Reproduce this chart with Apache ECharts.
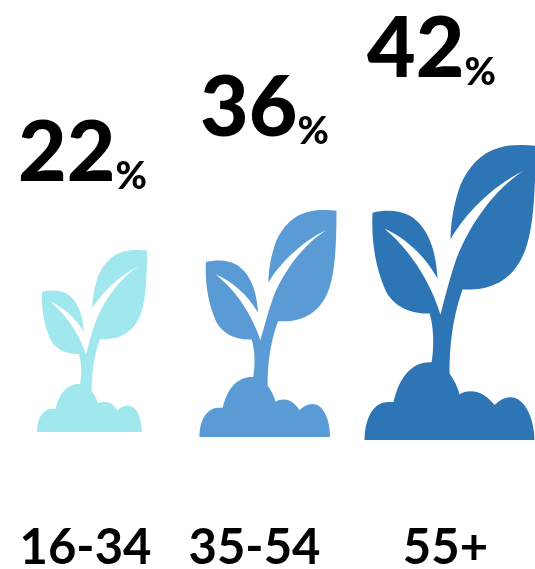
<!DOCTYPE html>
<html>
<head>
<meta charset="utf-8">
<style>html,body{margin:0;padding:0;background:#fff}#chart{width:535px;height:569px}</style>
<script src="https://cdn.jsdelivr.net/npm/echarts@6/dist/echarts.min.js"></script>
</head>
<body>
<div id="chart"></div>
<script>
// Share of each age group
const ageGroups = ['16-34', '35-54', '55+'];
const shares = [22, 36, 42];

// Seedling silhouette: two leaves with white veins, a stem and a mound of soil.
// The soil outline differs a little between the smaller and the larger plant.
const leavesAndStem = 'path://M535 145C525 144 510 143 498 147C480 152 468 166 460 184C454 200 450 222 450 239' +
  'C462 217 490 186 523 170C495 188 470 222 456 258C450 275 445 295 440 314' +
  'C435 298 420 258 384 228C405 237 425 256 437 278C436 255 430 232 415 219C405 210 388 208 372 212' +
  'C371 235 373 262 385 290C392 304 408 314 429 313C433 325 434 345 431 362' +
  'C415 361 400 372 393 402L388 402C372 402 364 420 364 440';
const stemAndLeafEnd = 'C457 386 453 379 449 373C449 350 451 320 462 289C480 290 505 287 520 260C532 240 535 200 535 145Z';
const wideSoil = 'L534 440C534 420 525 397 510 397C503 397 498 401 494 405C488 397 480 391 470 391C466 391 462 392 459 394';
const narrowSoil = 'L527 440C527 420 520 397 505 397C498 397 493 401 489 405C484 397 478 391 469 391C465 391 462 392 459 394';

// Per-group drawing style
const looks = [
  { color: '#A1E8EE', soil: narrowSoil, size: [110, 182], shift: [4.5, -8], label: [-5, -49], nudge: 4 },
  { color: '#5B9BD5', soil: narrowSoil, size: [137, 227], shift: [1.5, -3], label: [-2, -20], nudge: 24 },
  { color: '#2E75B6', soil: wideSoil, size: [171, 295], shift: [4.5, 0], label: [-14, -35], nudge: 0 }
];

const chart = echarts.init(document.getElementById('chart'), null, { renderer: 'canvas' });
const font = 'Lato, Carlito, "Open Sans", sans-serif';

chart.setOption({
  animation: false,
  backgroundColor: '#fff',
  grid: { left: -2, width: 537, top: 0, bottom: 129, outerBoundsMode: 'none' },
  xAxis: {
    type: 'category',
    data: ageGroups.map((name, i) => ({
      value: name,
      textStyle: { padding: [0, looks[i].nudge, 0, 0] }
    })),
    axisLine: { show: false },
    axisTick: { show: false },
    axisLabel: {
      margin: 84,
      interval: 0,
      color: '#000',
      fontFamily: font,
      fontWeight: 'bold',
      fontSize: 49
    }
  },
  yAxis: { type: 'value', min: 0, max: 60, show: false },
  series: [{
    type: 'pictorialBar',
    symbolPosition: 'start',
    barWidth: 170,
    data: shares.map((v, i) => ({
      value: v,
      symbol: leavesAndStem + looks[i].soil + stemAndLeafEnd,
      symbolSize: looks[i].size,
      symbolOffset: looks[i].shift,
      itemStyle: { color: looks[i].color },
      label: { offset: looks[i].label }
    })),
    label: {
      show: true,
      position: 'top',
      formatter: p => `{n|${p.value}}{p|%}`,
      rich: {
        n: { fontFamily: font, fontWeight: 900, fontSize: 84, color: '#000', verticalAlign: 'bottom', lineHeight: 84 },
        p: { fontFamily: font, fontWeight: 900, fontSize: 38, color: '#000', verticalAlign: 'bottom', lineHeight: 58 }
      }
    }
  }]
});
</script>
</body>
</html>
